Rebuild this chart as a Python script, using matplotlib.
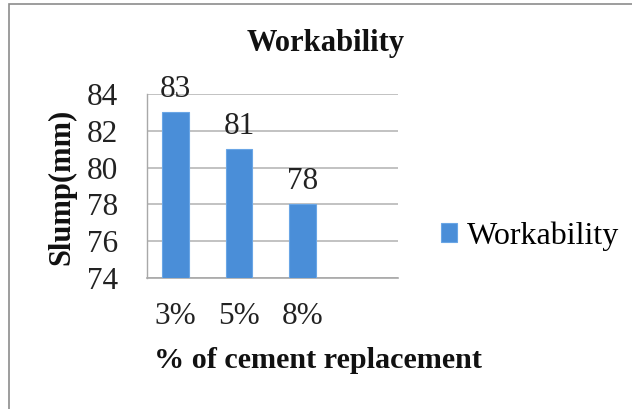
import matplotlib.pyplot as plt
from matplotlib.patches import Rectangle

# data
categories = ["3%", "5%", "8%"]
slump = [83, 81, 78]
yticks = [74, 76, 78, 80, 82, 84]

plt.rcParams['font.family'] = ['Liberation Serif', 'DejaVu Serif']

W, H = 632, 409
fig = plt.figure(figsize=(W / 100, H / 100), dpi=100)

# axes placed in pixel terms of the reference
left, right, top, bottom = 147, 398, 94, 278
ax = fig.add_axes([left / W, 1 - bottom / H, (right - left) / W, (bottom - top) / H])

x = list(range(len(categories)))
bars = ax.bar(x, [v - 74 for v in slump], bottom=74, width=0.42,
              color='#4a8ed8', edgecolor='#6aa6e6', linewidth=0.8, zorder=3,
              label='Workability')

for xi, v in zip(x, slump):
    ax.annotate(str(v), (xi, v), xytext=(0, 6), textcoords='offset points',
                ha='center', va='bottom', fontsize=22.5, color='#222222')

ax.set_xlim(-0.45, 3.5)
ax.set_ylim(74, 84)
ax.set_yticks(yticks)
ax.set_xticks(x)
ax.set_xticklabels(categories)
ax.tick_params(axis='y', length=0, pad=21, labelsize=22.5, labelcolor='#222222')
ax.tick_params(axis='x', length=0, pad=17, labelsize=22.5, labelcolor='#222222')

ax.grid(axis='y', color='#b8b8b8', linewidth=1.2, zorder=0)
for s in ['top', 'right']:
    ax.spines[s].set_visible(False)
ax.spines['left'].set_color('#a8a8a8')
ax.spines['bottom'].set_color('#a8a8a8')
ax.spines['left'].set_linewidth(1.0)
ax.spines['bottom'].set_linewidth(1.2)

# titles and axis labels
fig.text(326 / W, 1 - 43 / H, 'Workability', ha='center', va='center',
         fontsize=22, fontweight='bold', color='#111111')
fig.text(62 / W, 1 - 187 / H, 'Slump(mm)', ha='center', va='center',
         rotation=90, fontsize=22, fontweight='bold', color='#111111')
fig.text(318 / W, 1 - 360 / H, '% of cement replacement', ha='center', va='center',
         fontsize=21.7, fontweight='bold', color='#111111')

# legend
leg = fig.legend(handles=[bars], loc='center left', bbox_to_anchor=(441 / W, 1 - 236 / H),
                 frameon=False, fontsize=23, handlelength=0.5, handleheight=0.5,
                 handletextpad=0.3, borderpad=0, borderaxespad=0)

# outer frame of the chart (right and bottom edges fall outside the picture)
fig.patches.append(Rectangle((9 / W, -0.05), 1.1, 1 - 4 / H + 0.05,
                             transform=fig.transFigure, fill=False,
                             edgecolor='#8c8c8c', linewidth=1.2))

fig.savefig('out.png', dpi=100)
